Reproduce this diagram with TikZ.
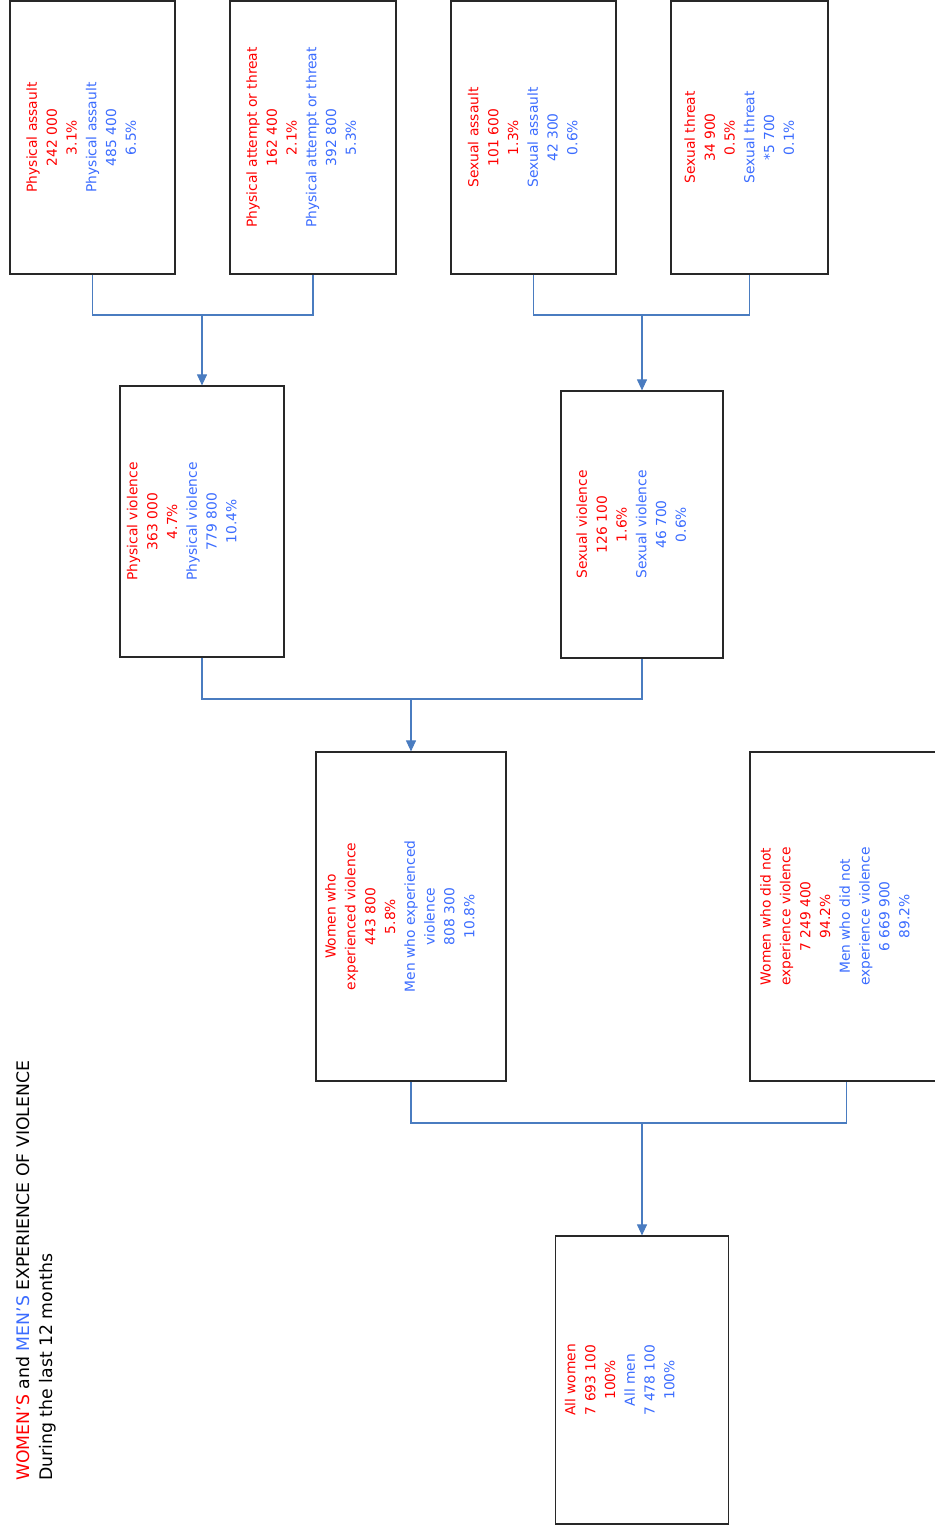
\documentclass[tikz,border=0pt]{standalone}
\usepackage{graphicx}
\usepackage{fontspec}
\setmainfont{DejaVu Sans}
\usetikzlibrary{arrows.meta}
\definecolor{wred}{RGB}{255,0,0}
\definecolor{mblue}{RGB}{59,108,255}
\definecolor{link}{RGB}{74,124,192}
\definecolor{frame}{RGB}{40,40,40}
\newcommand\wl[1]{\textcolor{wred}{#1}}
\newcommand\ml[1]{\textcolor{mblue}{#1}}
% vertical, bottom-to-top block of centred lines
\newcommand\vstack[1]{\rotatebox{90}{\fontsize{13.8}{19.8}\selectfont\begin{tabular}{@{}c@{}}#1\end{tabular}}}
\begin{document}
\begin{tikzpicture}[x=1pt,y=-1pt,
  box/.style={draw=frame,line width=1.2pt,inner sep=0pt},
  txt/.style={inner sep=0pt},
  conn/.style={draw=link,line width=1.1pt},
  arr/.style={conn,-{Triangle[width=10pt,length=11pt]}}]
\useasboundingbox (0,0) rectangle (934,1530);

% category boxes
\node[box,minimum width=165pt,minimum height=273pt] (pa) at (92.5,137.5) {};
\node[box,minimum width=166pt,minimum height=273pt] (pt) at (313,137.5) {};
\node[box,minimum width=165pt,minimum height=273pt] (sa) at (533.5,137.5) {};
\node[box,minimum width=157pt,minimum height=273pt] (st) at (749.5,137.5) {};
\node[box,minimum width=164pt,minimum height=271pt] (pv) at (202,521.5) {};
\node[box,minimum width=162pt,minimum height=267pt] (sv) at (642,524.5) {};
\node[box,minimum width=190pt,minimum height=329pt] (wv) at (411,916.5) {};
\node[box,minimum width=193pt,minimum height=329pt] (nv) at (846.5,916.5) {};
\node[box,minimum width=173pt,minimum height=288pt] (all) at (642,1380) {};

% box texts
\node[txt] (pa-t) at ([xshift=-10pt]pa.center) {\vstack{\wl{Physical assault}\\\wl{242 000}\\\wl{3.1\%}\\\ml{Physical assault}\\\ml{485 400}\\\ml{6.5\%}}};
\node[txt] (pt-t) at ([xshift=-10.5pt]pt.center) {\vstack{\wl{Physical attempt or threat}\\\wl{162 400}\\\wl{2.1\%}\\\ml{Physical attempt or threat}\\\ml{392 800}\\\ml{5.3\%}}};
\node[txt] (sa-t) at ([xshift=-9.5pt]sa.center) {\vstack{\wl{Sexual assault}\\\wl{101 600}\\\wl{1.3\%}\\\ml{Sexual assault}\\\ml{42 300}\\\ml{0.6\%}}};
\node[txt] (st-t) at ([xshift=-9pt]st.center) {\vstack{\wl{Sexual threat}\\\wl{34 900}\\\wl{0.5\%}\\\ml{Sexual threat}\\\ml{*5 700}\\\ml{0.1\%}}};
\node[txt] (pv-t) at ([xshift=-19pt]pv.center) {\vstack{\wl{Physical violence}\\\wl{363 000}\\\wl{4.7\%}\\\ml{Physical violence}\\\ml{779 800}\\\ml{10.4\%}}};
\node[txt] (sv-t) at ([xshift=-9.5pt]sv.center) {\vstack{\wl{Sexual violence}\\\wl{126 100}\\\wl{1.6\%}\\\ml{Sexual violence}\\\ml{46 700}\\\ml{0.6\%}}};
\node[txt] (wv-t) at ([xshift=-10pt]wv.center) {\vstack{\wl{Women who}\\\wl{experienced violence}\\\wl{443 800}\\\wl{5.8\%}\\\ml{Men who experienced}\\\ml{violence}\\\ml{808 300}\\\ml{10.8\%}}};
\node[txt] (nv-t) at ([xshift=-10.5pt]nv.center) {\vstack{\wl{Women who did not}\\\wl{experience violence}\\\wl{7 249 400}\\\wl{94.2\%}\\\ml{Men who did not}\\\ml{experience violence}\\\ml{6 669 900}\\\ml{89.2\%}}};
\node[txt] (all-t) at ([xshift=-21pt]all.center) {\vstack{\wl{All women}\\\wl{7 693 100}\\\wl{100\%}\\\ml{All men}\\\ml{7 478 100}\\\ml{100\%}}};

% title
\node[rotate=90,anchor=north west,align=left,inner sep=0pt,
      font=\fontsize{17.3}{23}\selectfont] (title) at (16,1481)
  {\textcolor{wred}{WOMEN'S} and \textcolor{mblue}{MEN'S} EXPERIENCE OF VIOLENCE\\During the last 12 months};

% junctions
\coordinate (j1) at (202,315);
\coordinate (j2) at (642,315);
\coordinate (j3) at (411,699);
\coordinate (j4) at (642,1123);

% connectors
\draw[conn] (pa.south) |- (j1) -| (pt.south);
\draw[arr] (j1) -- (pv.north);
\draw[conn] (sa.south) |- (j2) -| (st.south);
\draw[arr] (j2) -- (sv.north);
\draw[conn] (pv.south) |- (j3) -| (sv.south);
\draw[arr] (j3) -- (wv.north);
\draw[conn] (wv.south) |- (j4) -| (nv.south);
\draw[arr] (j4) -- (all.north);
\end{tikzpicture}
\end{document}
